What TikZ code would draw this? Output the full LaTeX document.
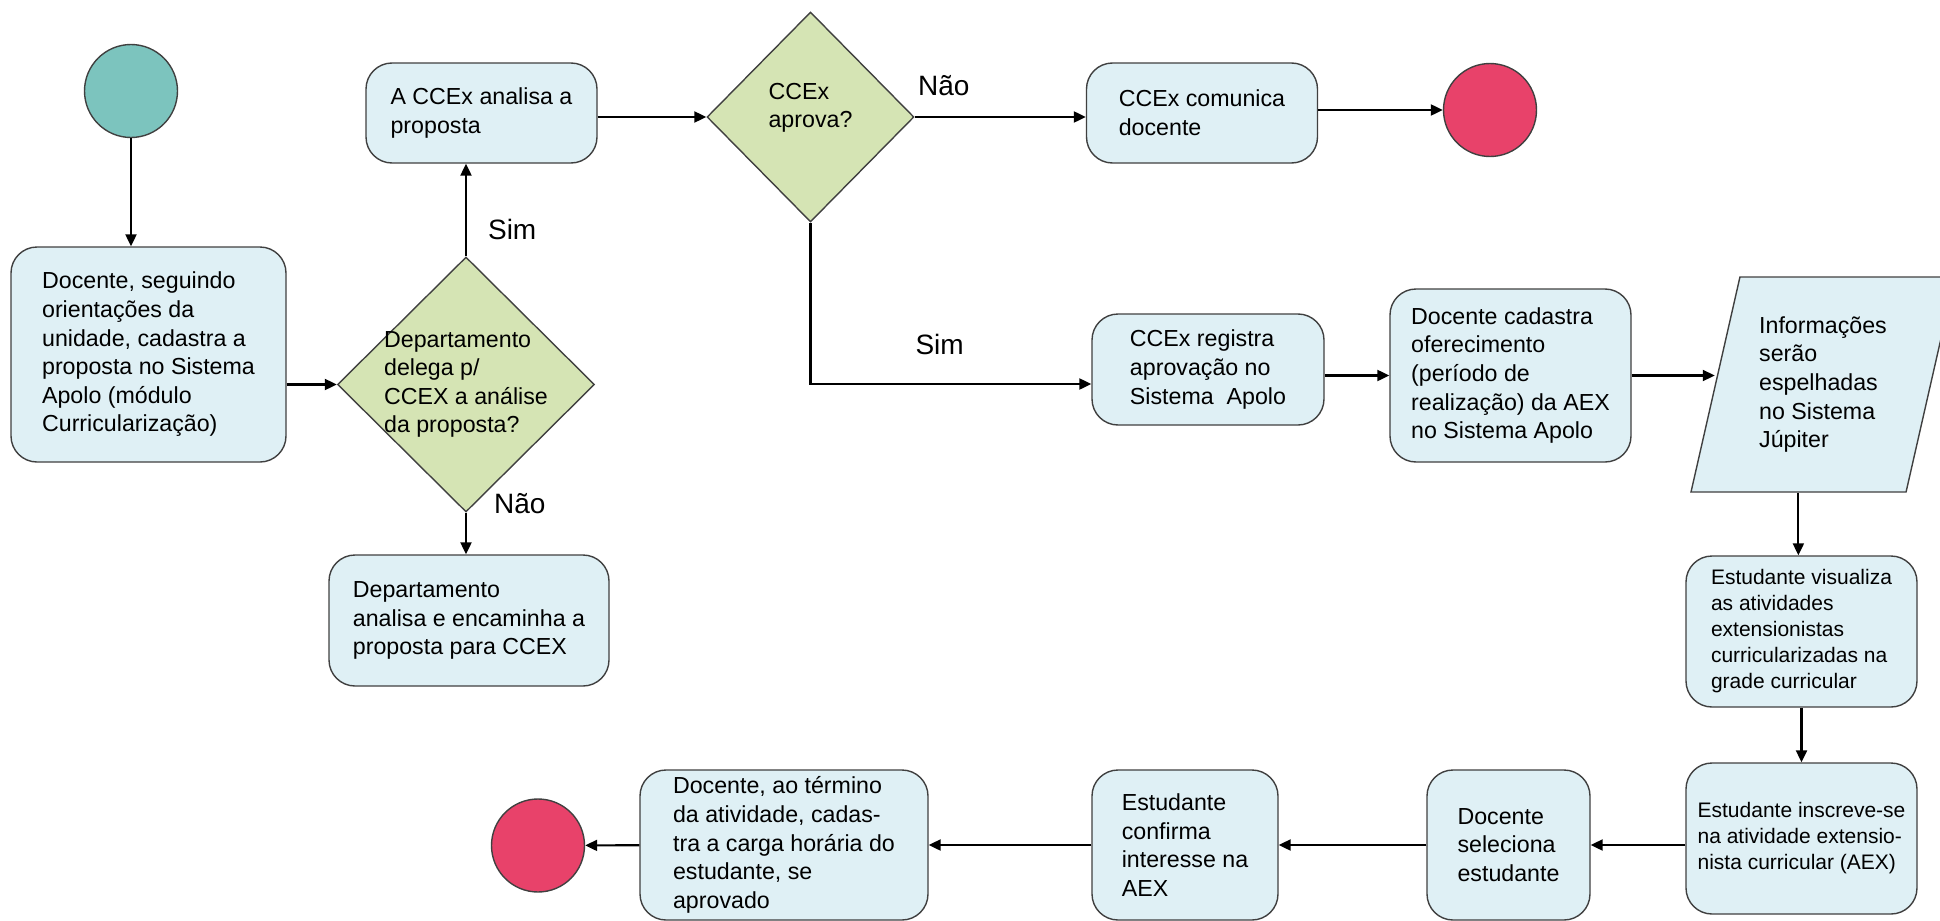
\documentclass[tikz,border=0pt]{standalone}
\usepackage{fontspec}
\setmainfont{Liberation Sans}
\usetikzlibrary{shapes.geometric,arrows.meta,positioning}

\definecolor{procblue}{HTML}{DFF0F5}
\definecolor{decgreen}{HTML}{D5E4B4}
\definecolor{startteal}{HTML}{7CC4BE}
\definecolor{stopred}{HTML}{E8426A}

\tikzset{
  proc/.style={rectangle, rounded corners=13pt, draw=black!75, line width=0.7pt,
    fill=procblue, align=left, inner ysep=2pt, font=\fontsize{11.6}{14.3}\selectfont},
  smalltext/.style={font=\fontsize{10.5}{13}\selectfont},
  decision/.style={diamond, draw=black!75, line width=0.7pt, fill=decgreen, inner sep=0pt},
  dectext/.style={align=left, font=\fontsize{11.6}{14.3}\selectfont},
  io/.style={trapezium, trapezium left angle=77, trapezium right angle=103,
    trapezium stretches body=true, inner ysep=19pt, draw=black!75, line width=0.7pt,
    fill=procblue, align=left, font=\fontsize{11.6}{14.3}\selectfont},
  startnode/.style={circle, draw=black!75, line width=0.7pt, fill=startteal,
    minimum size=46.5pt, inner sep=0pt},
  stopnode/.style={startnode, fill=stopred},
  answer/.style={font=\fontsize{14}{16}\selectfont, inner sep=0pt}
}

\begin{document}
\begin{tikzpicture}[x=0.5pt, y=-0.5pt, >={Triangle[length=6pt,width=5.5pt]}]
    \useasboundingbox (0,0) rectangle (1940,921);
    %states
    \node[startnode] (S) at (131,91) {};
    \node[proc, minimum width=137.5pt, minimum height=107.5pt] (B1) at (148.5,354.5)
      {Docente, seguindo\\orientações da\\unidade, cadastra a\\proposta no Sistema\\Apolo (módulo\\Curricularização)};
    \node[decision, minimum width=128.5pt, minimum height=127.5pt,
      label={[dectext]center:{Departamento\\delega p/\\CCEX a análise\\da proposta?}}] (D1) at (466,384.5) {};
    \node[proc, minimum width=115.5pt, minimum height=50pt] (B2) at (481.5,113) {A CCEx analisa a\\proposta};
    \node[decision, minimum width=103.5pt, minimum height=105pt,
      label={[dectext, yshift=4.5pt]center:{CCEx\\aprova?}}] (D2) at (810.5,117) {};
    \node[proc, minimum width=115.5pt, minimum height=50pt] (B3) at (1202,113) {CCEx comunica\\docente};
    \node[stopnode] (E1) at (1490,110) {};
    \node[proc, minimum width=140pt, minimum height=65.5pt] (B4) at (469,620.5)
      {Departamento\\analisa e encaminha a\\proposta para CCEX};
    \node[proc, minimum width=116pt, minimum height=55.5pt] (B5) at (1208,369.5)
      {CCEx registra\\aprovação no\\Sistema\ \ Apolo};
    \node[proc, minimum width=120.5pt, minimum height=86.5pt] (B6) at (1510.5,375.5)
      {Docente cadastra\\oferecimento\\(período de\\realização) da AEX\\no Sistema Apolo};
    \node[io, minimum width=132pt, minimum height=107.5pt] (P) at (1823,384.5)
      {Informações\\serão\\espelhadas\\no Sistema\\Júpiter};
    \node[proc, smalltext, minimum width=115.5pt, minimum height=75.5pt] (B7) at (1801.5,631.5)
      {Estudante visualiza\\as atividades\\extensionistas\\curricularizadas na\\grade curricular};
    \node[proc, smalltext, minimum width=115.5pt, minimum height=75.5pt] (B8) at (1801.5,838.5)
      {Estudante inscreve-se\\na atividade extensio-\\nista curricular (AEX)};
    \node[proc, minimum width=81.5pt, minimum height=75pt] (B9) at (1508.5,845)
      {Docente\\seleciona\\estudante};
    \node[proc, minimum width=93pt, minimum height=75pt] (B10) at (1185,845)
      {Estudante\\confirma\\interesse na\\AEX};
    \node[proc, minimum width=144pt, minimum height=75pt] (B11) at (784,845)
      {Docente, ao término\\da atividade, cadas-\\tra a carga horária do\\estudante, se\\aprovado};
    \node[stopnode] (E2) at (538,845.5) {};
    %edges
    \path[->, line width=1.1pt]
     (S) edge (S |- B1.north)
     (B1.east |- D1) edge (D1)
     (D1.north) edge node[answer, pos=0.29, right=10.5pt] (simD1) {Sim} (D1.north |- B2.south)
     (D1.south) edge node[answer, pos=0, anchor=west, xshift=13.5pt, yshift=4.5pt] (naoD1) {Não} (D1.south |- B4.north)
     (B2.east |- D2) edge (D2)
     (D2) edge node[answer, pos=0.17, above=10pt] (naoD2) {Não} (D2 -| B3.west)
     (B3.east |- E1) edge (E1)
     (B5.east |- B6) edge (B6)
     (B6) edge (B6 -| P.west)
     (P.bottom side) edge (P.bottom side |- B7.north)
     (B7) edge (B8)
     (B8.west |- B9) edge (B9)
     (B9) edge (B10)
     (B10) edge (B11)
     (B11) edge (E2);
    \draw[->, line width=1.1pt] (D2.south) |- ([yshift=-7.25pt]B5.west)
      node[answer, pos=0.73, above=14pt] (simD2) {Sim};
\end{tikzpicture}
\end{document}
